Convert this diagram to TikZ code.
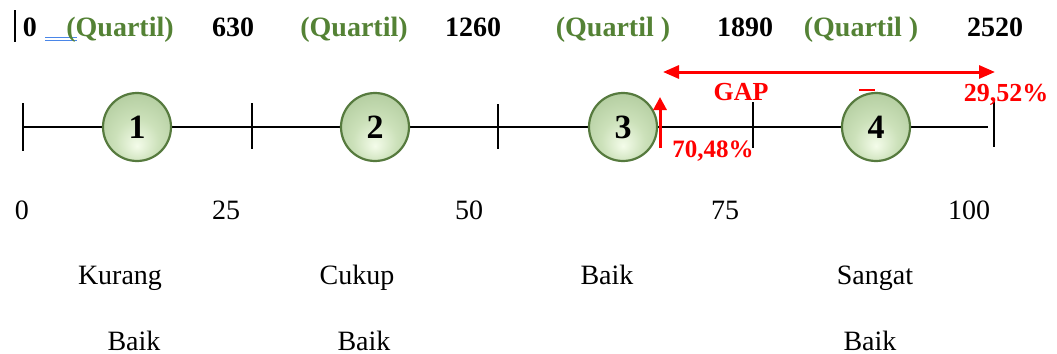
\documentclass[tikz,border=0pt]{standalone}
\usepackage{fontspec}
\setmainfont{Liberation Serif}
\usetikzlibrary{arrows.meta}

\definecolor{quartilgreen}{RGB}{84,130,53}
\definecolor{ballrim}{RGB}{86,122,62}
\definecolor{balllight}{RGB}{244,252,234}
\definecolor{ballmid}{RGB}{204,225,186}
\definecolor{balldark}{RGB}{168,196,148}
\definecolor{markblue}{RGB}{74,134,232}
\pgfdeclareradialshading{ballshade}{\pgfpoint{0bp}{-14bp}}{color(0bp)=(balllight); color(16bp)=(ballmid); color(40bp)=(balldark); color(60bp)=(balldark)}

\tikzset{
  ball/.style={circle, draw=ballrim, line width=1.1pt, minimum size=34pt, inner sep=0pt,
    shading=ballshade, font=\fontsize{17}{17}\selectfont\bfseries},
  topnum/.style={anchor=base, font=\fontsize{14}{14}\selectfont\bfseries},
  quartil/.style={topnum, text=quartilgreen},
  scalenum/.style={anchor=base, font=\fontsize{14}{14}\selectfont},
  category/.style={scalenum},
  gaptext/.style={anchor=base, text=red, font=\fontsize{12.5}{12.5}\selectfont\bfseries},
  gaparrow/.style={red, line width=1.5pt, {Triangle[length=8pt,width=6.5pt]}-{Triangle[length=8pt,width=6.5pt]}},
  tick/.style={line width=0.6pt}
}

\begin{document}
\begin{tikzpicture}[x=0.5pt, y=-0.5pt]
    \useasboundingbox (0,0) rectangle (1057,354);

    % top row
    \draw [line width=0.6pt] (15,10) -- (15,42);
    \node [topnum] (n0) at (30,36) {0};
    \draw [markblue, line width=0.4pt] (45,37) -- (77,37) (45,40) -- (77,40);
    \node [quartil] (qa) at (120,36) {(Quartil)};
    \node [topnum] (n630) at (233,36) {630};
    \node [quartil] (qb) at (354,36) {(Quartil)};
    \node [topnum] (n1260) at (473,36) {1260};
    \node [quartil] (qc) at (613,36) {(Quartil )};
    \node [topnum] (n1890) at (745,36) {1890};
    \node [quartil] (qd) at (861,36) {(Quartil )};
    \node [topnum] (n2520) at (995,36) {2520};

    % scale line
    \coordinate (t0) at (23,127);
    \coordinate (t1) at (252,127);
    \coordinate (t2) at (498,127);
    \coordinate (t3) at (753,127);
    \coordinate (t4) at (994,127);
    \coordinate (lineend) at (988,127);
    \draw [line width=0.75pt] (t0) -- (lineend);
    \draw [tick] (23,103) -- (23,151);
    \draw [tick] (252,103) -- (252,149);
    \draw [tick] (498,104) -- (498,149);
    \draw [tick] (753,102) -- (753,148);
    \draw [tick] (994,100) -- (994,147);

    \node [ball] (q1) at (137,127) {1};
    \node [ball] (q2) at (375,127) {2};
    \node [ball] (q3) at (623,127) {3};
    \node [ball] (q4) at (876,127) {4};

    % gap
    \coordinate (gapL) at (663,72);
    \coordinate (gapR) at (995,72);
    \draw [gaparrow] (gapL) -- (gapR);
    \coordinate (scoreB) at (660,148);
    \coordinate (scoreT) at (660,97);
    \draw [red, line width=1.5pt, -{Triangle[length=6.5pt,width=6.5pt]}] (scoreB) -- (scoreT);
    \draw [red, line width=0.8pt] (859,90) -- (875,90);
    \node [gaptext, font=\fontsize{13}{13}\selectfont\bfseries] (gap) at (741,100) {GAP};
    \node [gaptext] (score) at (713,157) {70,48\%};
    \node [gaptext, font=\fontsize{13}{13}\selectfont\bfseries] (rest) at (1006,101) {29,52\%};

    % bottom labels
    \node [scalenum] (s0) at (22,219) {0};
    \node [scalenum] (s25) at (226,219) {25};
    \node [scalenum] (s50) at (469,219) {50};
    \node [scalenum] (s75) at (725,219) {75};
    \node [scalenum] (s100) at (969,219) {100};

    \node [category] (c1) at (120,284) {Kurang};
    \node [category] (c1b) at (134,350) {Baik};
    \node [category] (c2) at (357,284) {Cukup};
    \node [category] (c2b) at (364,350) {Baik};
    \node [category] (c3) at (607,284) {Baik};
    \node [category] (c4) at (875,284) {Sangat};
    \node [category] (c4b) at (870,350) {Baik};
\end{tikzpicture}
\end{document}
